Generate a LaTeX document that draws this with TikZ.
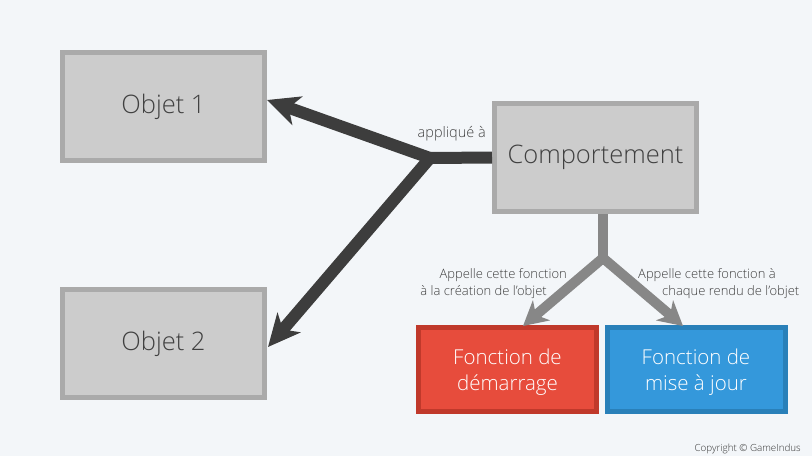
\documentclass[tikz,border=0pt]{standalone}
\usepackage{fontspec}
\setmainfont{Open Sans Light}
\usetikzlibrary{arrows.meta}
\definecolor{bg}{HTML}{F3F6F9}
\definecolor{boxfill}{HTML}{CCCCCC}
\definecolor{boxline}{HTML}{AAAAAA}
\definecolor{dark}{HTML}{3D3D3D}
\definecolor{midgray}{HTML}{878787}
\definecolor{redfill}{HTML}{E74C3C}
\definecolor{redline}{HTML}{C0392B}
\definecolor{bluefill}{HTML}{3498DB}
\definecolor{blueline}{HTML}{2980B9}
\definecolor{txt}{HTML}{404040}
\tikzset{
  graybox/.style={draw=boxline, fill=boxfill, line width=5pt, minimum width=202pt, minimum height=108pt, inner sep=0pt, text=txt, font=\fontsize{25.5}{30}\selectfont},
  fnbox/.style={line width=5pt, minimum width=178pt, minimum height=84pt, inner sep=0pt},
  fntext/.style={text=white, align=center, inner sep=0pt, font=\fontsize{20.5}{26}\selectfont},
  darkarrow/.style={draw=dark, line width=12pt, -{Stealth[length=32pt,width=30pt,inset=9pt]}},
  grayarrow/.style={draw=midgray, line width=10pt, -{Stealth[length=24pt,width=26pt,inset=7pt]}},
  lbl/.style={text=txt, font=\fontsize{13}{15}\selectfont, inner sep=0pt},
}
\begin{document}
\begin{tikzpicture}[x=1pt,y=-1pt]
\fill[bg] (0,0) rectangle (812,456);
\useasboundingbox (0,0) rectangle (812,456);
\node[graybox] (o1) at (163.5,106.5) {Objet 1};
\node[graybox] (o2) at (163.5,343.5) {Objet 2};
\node[graybox] (comp) at (595.5,157.5) {Comportement};
\node[fnbox, draw=redline, fill=redfill] (start) at (507.5,369) {};
\node[fntext] (starttext) at (507.5,372) {Fonction de\\démarrage};
\node[fnbox, draw=blueline, fill=bluefill] (upd) at (696,369) {};
\node[fntext] (updtext) at (696,372) {Fonction de\\mise à jour};
\coordinate (j1) at (430,158);
\coordinate (t1) at (267,100);
\coordinate (t2) at (268,347);
\coordinate (j2) at (603,258);
\coordinate (t3) at (523,326);
\coordinate (t4) at (683,326);
\draw[dark, line width=12pt] (comp.west) -- (j1);
\draw[darkarrow] (j1) -- (t1);
\draw[darkarrow] (j1) -- (t2);
\draw[midgray, line width=10pt] (comp.south -| j2) -- (j2);
\draw[grayarrow] (j2) -- (t3);
\draw[grayarrow] (j2) -- (t4);
\node[lbl, anchor=base east, font=\fontsize{14.5}{17}\selectfont] (la) at (486,137) {appliqué à};
\node[lbl, anchor=base east] (lb1) at (567,278) {Appelle cette fonction};
\node[lbl, anchor=base east] (lb2) at (547,295) {à la création de l’objet};
\node[lbl, anchor=base west] (lc1) at (638,278) {Appelle cette fonction à};
\node[lbl, anchor=base west] (lc2) at (662,295) {chaque rendu de l’objet};
\node[lbl, anchor=base east, font=\fontsize{9.8}{11}\selectfont, text=black!80] (cp) at (801,451) {Copyright © GameIndus};
\end{tikzpicture}
\end{document}
